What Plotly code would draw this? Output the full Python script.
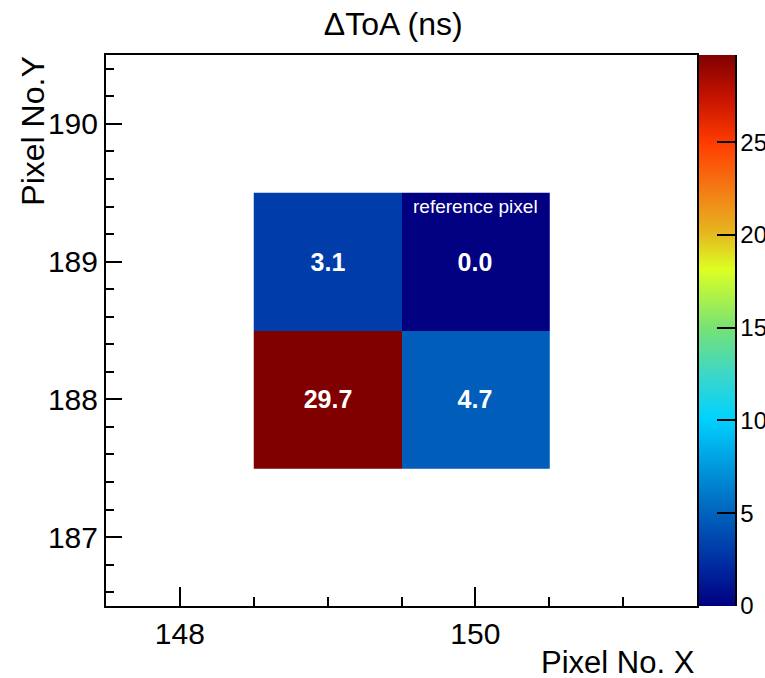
import plotly.graph_objects as go

# Data
pixel_x = [149, 150]
pixel_y = [188, 189]
# z[row][col] with rows = pixel_y, cols = pixel_x
dtoa = [[29.7, 4.7],
        [3.1, 0.0]]
ref_pixel = (150, 189)
title_text = "ΔToA (ns)"
x_title = "Pixel No. X"
y_title = "Pixel No.Y"

colorscale = [
    [0.00, "rgb(0,0,128)"],
    [0.07, "rgb(0,40,160)"],
    [0.17, "rgb(0,100,190)"],
    [0.25, "rgb(0,150,220)"],
    [0.34, "rgb(0,210,255)"],
    [0.42, "rgb(60,215,200)"],
    [0.50, "rgb(115,225,120)"],
    [0.61, "rgb(220,255,35)"],
    [0.68, "rgb(230,180,30)"],
    [0.76, "rgb(245,120,20)"],
    [0.84, "rgb(255,60,0)"],
    [0.92, "rgb(200,20,0)"],
    [1.00, "rgb(128,0,0)"],
]

FONT = "Liberation Sans, Arial, sans-serif"

text = [[f"{v:.1f}" for v in row] for row in dtoa]

fig = go.Figure()
fig.add_trace(go.Heatmap(
    x=pixel_x, y=pixel_y, z=dtoa,
    zmin=0, zmax=max(max(r) for r in dtoa),
    colorscale=colorscale,
    text=text, texttemplate="<b>%{text}</b>",
    textfont=dict(family=FONT, size=25, color="white"),
    hoverinfo="skip",
    colorbar=dict(
        x=1.0, xanchor="left", xpad=2,
        y=0.5, yanchor="middle", len=1.0, lenmode="fraction", ypad=0,
        thickness=36, outlinewidth=0,
        ticks="inside", ticklen=18, tickwidth=2, tickcolor="black",
        tickvals=[0, 5, 10, 15, 20, 25],
        tickfont=dict(family=FONT, size=24, color="black"),
        showticklabels=True,
    ),
))

fig.add_annotation(
    x=ref_pixel[0], y=ref_pixel[1] + 0.4, xref="x", yref="y",
    text="reference pixel", showarrow=False,
    font=dict(family=FONT, size=19, color="white"),
)

fig.add_annotation(
    x=1.0, y=-0.068, xref="paper", yref="paper", xanchor="right", yanchor="top",
    text=x_title, showarrow=False,
    font=dict(family=FONT, size=31, color="black"),
)
fig.add_annotation(
    x=-0.125, y=1.0, xref="paper", yref="paper", xanchor="center", yanchor="top",
    text=y_title, showarrow=False, textangle=-90,
    font=dict(family=FONT, size=32, color="black"),
)

# colorbar axis line on its right edge
fig.add_shape(type="line", xref="paper", yref="paper",
              x0=(736 - 106) / 591, x1=(736 - 106) / 591, y0=0, y1=1,
              line=dict(color="black", width=2))

fig.update_layout(
    width=765, height=678,
    margin=dict(l=106, r=68, t=55, b=72, autoexpand=False),
    paper_bgcolor="white", plot_bgcolor="white",
    title=dict(text=title_text, x=0.514, xref="container", xanchor="center",
               y=0.965, yref="container", yanchor="middle",
               font=dict(family=FONT, size=32, color="black")),
    font=dict(family=FONT, color="black"),
)

fig.update_xaxes(
    range=[147.5, 151.5], tickvals=[148, 150], ticks="inside", ticklen=19, tickwidth=2,
    tickcolor="black", showgrid=False, zeroline=False,
    showline=True, linecolor="black", linewidth=2, mirror=True,
    tickfont=dict(family=FONT, size=30, color="black"),
    minor=dict(tickvals=[148.5, 149, 149.5, 150.5, 151], ticks="inside", ticklen=9,
               tickwidth=2, tickcolor="black", showgrid=False),
)
fig.update_yaxes(
    range=[186.5, 190.5], tickvals=[187, 188, 189, 190], ticks="inside", ticklen=16, tickwidth=2,
    tickcolor="black", showgrid=False, zeroline=False,
    showline=True, linecolor="black", linewidth=2, mirror=True,
    tickfont=dict(family=FONT, size=30, color="black"),
    minor=dict(dtick=0.2, tick0=186.6, ticks="inside", ticklen=8,
               tickwidth=2, tickcolor="black", showgrid=False),
)

fig.write_html("out.html")
